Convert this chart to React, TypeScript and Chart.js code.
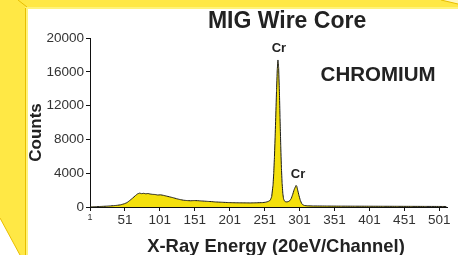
import { useEffect, useRef } from "react";
import { Chart, registerables } from "chart.js";

Chart.register(...registerables);

// ---- Data ----
const channels = [
  1, 5, 10, 15, 20, 25, 30, 35, 40, 45, 50, 54, 58, 62, 66, 69, 72, 75, 78, 81,
  84, 87, 90, 94, 98, 102, 106, 110, 115, 120, 125, 130, 135, 140, 145, 150,
  155, 160, 165, 170, 175, 180, 185, 190, 195, 200, 210, 220, 230, 240, 248,
  252, 256, 259, 261, 263, 264, 265, 266, 267, 268, 269, 270, 271, 272, 273,
  274, 275, 276, 277, 278, 279, 281, 283, 285, 287, 289, 291, 293, 295, 296,
  297, 298, 300, 302, 304, 306, 308, 312, 320, 340, 360, 380, 400, 420, 440,
  460, 480, 500, 511,
];
const counts = [
  0, 20, 40, 60, 80, 100, 130, 160, 200, 260, 380, 520, 780, 1050, 1350, 1550,
  1640, 1580, 1620, 1560, 1600, 1540, 1500, 1480, 1420, 1440, 1380, 1300, 1200,
  1100, 980, 880, 800, 760, 740, 760, 750, 720, 690, 660, 640, 600, 580, 560,
  540, 520, 500, 490, 480, 500, 520, 560, 650, 800, 1200, 2600, 4000, 5900,
  8300, 11000, 13800, 16200, 17400, 16500, 14000, 10600, 7300, 4600, 2800,
  1600, 1000, 750, 620, 600, 650, 750, 1000, 1450, 2000, 2400, 2550, 2450,
  2100, 1400, 800, 400, 250, 180, 140, 120, 110, 100, 95, 90, 85, 80, 75, 70,
  65, 60,
];
const xTickValues = [1, 51, 101, 151, 201, 251, 301, 351, 401, 451, 501];
const yTickValues = [0, 4000, 8000, 12000, 16000, 20000];
const peakLabels = ["Cr", "Cr"];
const peakChannels = [270, 296];
const peakCounts = [17400, 2550];
const chartTitle = "MIG Wire Core";
const elementName = "CHROMIUM";
const xAxisTitle = "X-Ray Energy (20eV/Channel)";
const yAxisTitle = "Counts";

const FONT = '"Liberation Sans", Arial, Helvetica, sans-serif';
const FRAME_YELLOW = "#FFE845";
const FRAME_LIGHT = "#FFF37A";
const FRAME_EDGE = "#E8BE00";
const SPECTRUM_FILL = "#F4E00C";

const framePlugin = {
  id: "frame",
  beforeDraw(chart: any) {
    const { ctx, width, height } = chart;
    ctx.save();
    ctx.fillStyle = "#ffffff";
    ctx.fillRect(0, 0, width, height);
    // top face
    ctx.fillStyle = FRAME_YELLOW;
    ctx.fillRect(0, 0, width, 7);
    ctx.fillStyle = FRAME_LIGHT;
    ctx.fillRect(26, 7, width - 26, 2);
    ctx.fillStyle = "#FFF8C0";
    ctx.beginPath();
    ctx.moveTo(441, 0);
    ctx.lineTo(width, 0);
    ctx.lineTo(width, 4);
    ctx.closePath();
    ctx.fill();
    // left face
    ctx.fillStyle = FRAME_YELLOW;
    ctx.beginPath();
    ctx.moveTo(0, 0);
    ctx.lineTo(25, 0);
    ctx.lineTo(25, height);
    ctx.lineTo(20, height);
    ctx.lineTo(0, 218);
    ctx.closePath();
    ctx.fill();
    ctx.fillStyle = FRAME_LIGHT;
    ctx.fillRect(25, 7, 3, height - 7);
    ctx.strokeStyle = FRAME_EDGE;
    ctx.lineWidth = 1;
    ctx.beginPath();
    ctx.moveTo(25.5, 8);
    ctx.lineTo(25.5, height);
    ctx.stroke();
    ctx.beginPath();
    ctx.moveTo(0, 218);
    ctx.lineTo(20, height);
    ctx.stroke();
    ctx.beginPath();
    ctx.moveTo(18, 0);
    ctx.lineTo(27, 7);
    ctx.stroke();
    ctx.beginPath();
    ctx.moveTo(441, 0);
    ctx.lineTo(width, 4);
    ctx.stroke();
    ctx.restore();
  },
};

const textPlugin = {
  id: "texts",
  afterDraw(chart: any) {
    const { ctx, chartArea, scales } = chart;
    const x = scales.x;
    const y = scales.y;
    ctx.save();
    ctx.fillStyle = "#222222";
    ctx.textAlign = "center";
    ctx.textBaseline = "middle";

    ctx.font = `bold 23px ${FONT}`;
    ctx.fillText(
      chartTitle,
      chartArea.left + (chartArea.right - chartArea.left) * 0.552,
      21.5
    );

    ctx.font = `bold 20.5px ${FONT}`;
    ctx.fillText(
      elementName,
      chartArea.left + (chartArea.right - chartArea.left) * 0.807,
      y.getPixelForValue(15600)
    );

    ctx.font = `bold 13px ${FONT}`;
    ctx.fillText(
      peakLabels[0],
      x.getPixelForValue(peakChannels[0]) + 1,
      y.getPixelForValue(peakCounts[0]) - 12
    );
    ctx.fillText(
      peakLabels[1],
      x.getPixelForValue(peakChannels[1]) + 2,
      y.getPixelForValue(peakCounts[1]) - 11
    );

    ctx.font = `bold 18.4px ${FONT}`;
    ctx.fillText(xAxisTitle, 276, 246.5);

    ctx.save();
    ctx.translate(36, (chartArea.top + chartArea.bottom) / 2 + 10);
    ctx.rotate(-Math.PI / 2);
    ctx.font = `bold 17px ${FONT}`;
    ctx.fillText(yAxisTitle, 0, 0);
    ctx.restore();

    ctx.restore();
  },
};

export default function App() {
  const canvasRef = useRef<HTMLCanvasElement | null>(null);

  useEffect(() => {
    if (!canvasRef.current) return;
    const points = channels.map((c, i) => ({ x: c, y: counts[i] }));
    const chart = new Chart(canvasRef.current, {
      type: "line",
      data: {
        datasets: [
          {
            data: points,
            borderColor: "#1a1a1a",
            borderWidth: 1,
            backgroundColor: SPECTRUM_FILL,
            fill: "origin",
            pointRadius: 0,
            tension: 0.00001,
          },
        ],
      },
      options: {
        animation: false,
        responsive: false,
        events: [],
        layout: { padding: { top: 38, right: 11, left: 0, bottom: 0 } },
        plugins: {
          legend: { display: false },
          tooltip: { enabled: false },
          title: { display: false },
        },
        scales: {
          x: {
            type: "linear",
            min: 1,
            max: 512,
            afterFit: (s: any) => {
              s.height = 48;
            },
            afterBuildTicks: (s: any) => {
              s.ticks = xTickValues.map((v) => ({ value: v }));
            },
            border: { display: true, color: "#111", width: 1 },
            grid: {
              drawOnChartArea: false,
              drawTicks: true,
              tickLength: 4,
              color: "#111",
            },
            ticks: {
              autoSkip: false,
              maxRotation: 0,
              padding: 1,
              color: "#333",
              font: (c: any) =>
                c.tick && c.tick.value === 1
                  ? { family: FONT, size: 9 }
                  : { family: FONT, size: 13.5 },
              callback: (v: any) => String(v),
            },
          },
          y: {
            type: "linear",
            min: 0,
            max: 20000,
            afterFit: (s: any) => {
              s.width = 90;
            },
            border: { display: true, color: "#111", width: 1 },
            grid: {
              drawOnChartArea: false,
              drawTicks: true,
              tickLength: 4,
              color: "#111",
            },
            ticks: {
              stepSize: 2000,
              padding: 2,
              color: "#333",
              font: { family: FONT, size: 13.5 },
              callback: (v: any) =>
                yTickValues.includes(Number(v)) ? String(v) : "",
            },
          },
        },
      },
      plugins: [framePlugin, textPlugin],
    });
    return () => chart.destroy();
  }, []);

  return (
    <div
      style={{
        position: "fixed",
        left: 0,
        top: 0,
        width: 458,
        height: 255,
        background: "#fff",
      }}
    >
      <canvas
        ref={canvasRef}
        width={458}
        height={255}
        style={{ display: "block", width: 458, height: 255 }}
      />
    </div>
  );
}
